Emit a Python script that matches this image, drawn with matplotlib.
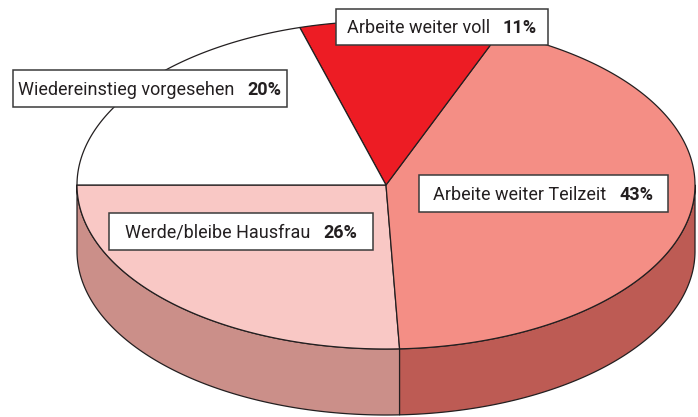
import numpy as np
import matplotlib.pyplot as plt
from matplotlib.patches import Polygon, Rectangle

###############################
###          DATA           ###
###############################
labels = ["Werde/bleibe Hausfrau", "Arbeite weiter Teilzeit",
          "Arbeite weiter voll", "Wiedereinstieg vorgesehen"]
# slice sizes as drawn (labels are rounded)
shares = [25.7, 43.3, 10.5, 20.5]
pct_text = ["26%", "43%", "11%", "20%"]

top_colors = ["#F9C8C5", "#F48E85", "#ED1C24", "#FFFFFF"]
side_colors = ["#CB8F89", "#BD5B54", "#B01A1F", "#DDDDDD"]

###############################
###         LAYOUT          ###
###############################
W, H = 698, 417
cx, cy = 386, 185       # centre of top ellipse (pixels)
a, b = 309, 164         # semi axes
depth = 66              # thickness of the pie
start = 180.0           # first slice starts at the left

# label boxes: left, top, right, bottom (pixels)
boxes = [(109, 213, 373, 250),
         (419, 175, 668, 212),
         (336, 9, 548, 45),
         (13, 70, 287, 107)]

edge = "#231F20"
GAP = 13                # pixels between label and percentage
MAXW = 262              # widest label group in pixels
plt.rcParams['font.family'] = ['Roboto', 'DejaVu Sans']

fig = plt.figure(figsize=(W / 100, H / 100), dpi=100)
ax = fig.add_axes([0, 0, 1, 1])
ax.set_xlim(0, W)
ax.set_ylim(H, 0)
ax.axis('off')


def pt(t, dy=0.0):
    t = np.radians(t)
    return np.column_stack([cx + a * np.cos(t), cy - b * np.sin(t) + dy])


# slice angles (parametric, counter clockwise)
bounds = start + np.concatenate([[0], np.cumsum(shares)]) / sum(shares) * 360.0

# side walls first (front half only: 180..360)
for i in range(len(shares)):
    t0, t1 = bounds[i], bounds[i + 1]
    s0, s1 = max(t0, 180.0), min(t1, 360.0)
    if s0 < s1:
        ts = np.linspace(s0, s1, 200)
        poly = np.vstack([pt(ts), pt(ts[::-1], depth)])
        ax.add_patch(Polygon(poly, closed=True, facecolor=side_colors[i],
                             edgecolor=edge, linewidth=0.9, joinstyle='round'))

# top faces
for i in range(len(shares)):
    ts = np.linspace(bounds[i], bounds[i + 1], 200)
    poly = np.vstack([[cx, cy], pt(ts)])
    ax.add_patch(Polygon(poly, closed=True, facecolor=top_colors[i],
                         edgecolor=edge, linewidth=0.9, joinstyle='round'))

# label boxes
renderer = fig.canvas.get_renderer()


def width_of(s, fs, bold=False):
    t = ax.text(0, 0, s, fontsize=fs, fontweight='bold' if bold else 'normal')
    w = t.get_window_extent(renderer).width
    t.remove()
    return w


base = 12.0
widest = max(width_of(l, base) + width_of(p, base, True)
             for l, p in zip(labels, pct_text))
FS = base * (MAXW - GAP) / widest

for i in range(len(shares)):
    x0, y0, x1, y1 = boxes[i]
    ax.add_patch(Rectangle((x0, y0), x1 - x0, y1 - y0, facecolor="white",
                           edgecolor="#3A3A3A", linewidth=1.1, zorder=5))
    wl = width_of(labels[i], FS)
    wp = width_of(pct_text[i], FS, True)
    xs = (x0 + x1) / 2 - (wl + GAP + wp) / 2
    ym = (y0 + y1) / 2 + 1
    ax.text(xs, ym, labels[i], ha='left', va='center', fontsize=FS,
            color=edge, zorder=6)
    ax.text(xs + wl + GAP, ym, pct_text[i], ha='left', va='center',
            fontsize=FS, fontweight='bold', color=edge, zorder=6)

fig.savefig("out.png", dpi=100)
